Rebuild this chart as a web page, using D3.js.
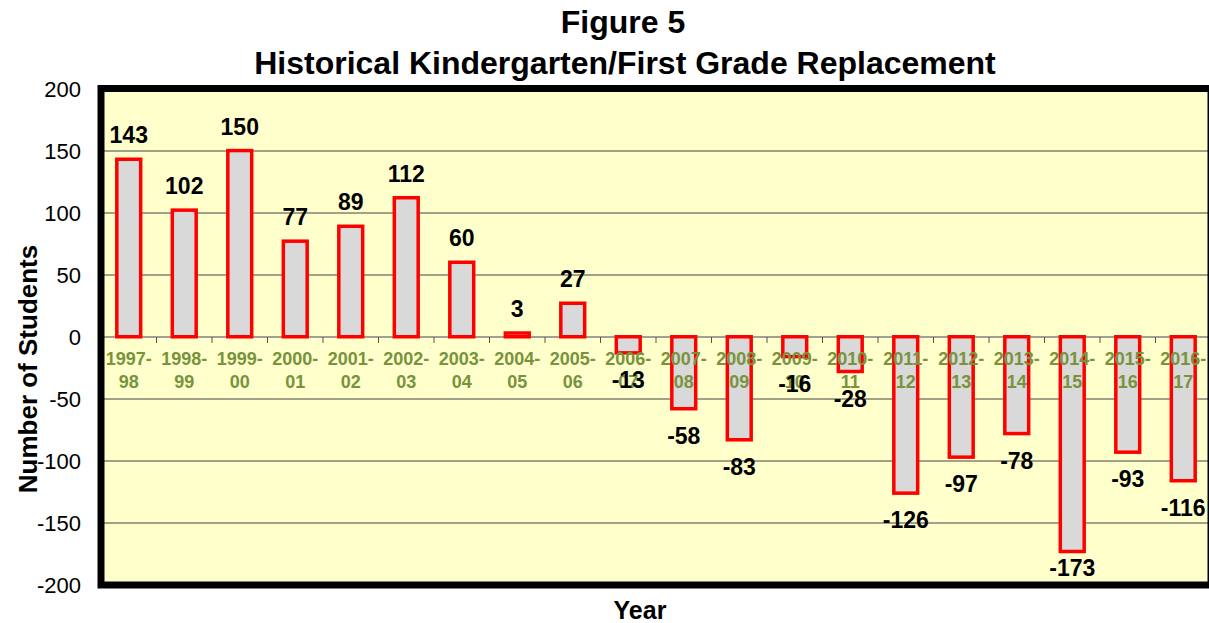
<!DOCTYPE html>
<html>
<head>
<meta charset="utf-8">
<script src="https://cdn.jsdelivr.net/npm/d3@7"></script>
<style>
  body { margin: 0; background: #fff; overflow: hidden; }
  svg { display: block; font-family: Arial, "Liberation Sans", sans-serif; }
</style>
</head>
<body>
<svg id="chart" width="1209" height="623"></svg>
<script>
// chart data
const years = ["1997-98","1998-99","1999-00","2000-01","2001-02","2002-03","2003-04","2004-05","2005-06","2006-07",
               "2007-08","2008-09","2009-10","2010-11","2011-12","2012-13","2013-14","2014-15","2015-16","2016-17"];
const replacement = [143,102,150,77,89,112,60,3,27,-13,-58,-83,-16,-28,-126,-97,-78,-173,-93,-116];
const yTicks = [-200,-150,-100,-50,0,50,100,150,200];

const svg = d3.select("#chart");
const margin = {left: 101, top: 88.5, right: -2, bottom: 38};
const width = 1209 - margin.left - margin.right;
const height = 623 - margin.top - margin.bottom;

const x = d3.scaleBand().domain(years).range([0, width]).paddingInner(0.57).paddingOuter(0.285);
const y = d3.scaleLinear().domain([-200, 200]).range([height, 0]);

const g = svg.append("g").attr("transform", `translate(${margin.left},${margin.top})`);

// plot background
g.append("rect").attr("width", width).attr("height", height).attr("fill", "#FFFFCC");

// gridlines
g.selectAll(".grid").data(yTicks.filter(d => d !== 0 && Math.abs(d) !== 200))
  .enter().append("line")
  .attr("x1", 0).attr("x2", width)
  .attr("y1", d => Math.round(y(d)) + 0.5).attr("y2", d => Math.round(y(d)) + 0.5)
  .attr("stroke", "#444").attr("stroke-width", 1);

// zero axis with ticks at band edges
const zeroY = Math.round(y(0)) + 0.5;
g.append("line").attr("x1", 0).attr("x2", width).attr("y1", zeroY).attr("y2", zeroY)
  .attr("stroke", "#808080").attr("stroke-width", 1.5);
g.selectAll(".xtick").data(years.slice(1)).enter().append("line")
  .attr("x1", d => x(d) - x.step() * x.paddingInner() / 2)
  .attr("x2", d => x(d) - x.step() * x.paddingInner() / 2)
  .attr("y1", zeroY).attr("y2", zeroY + 6)
  .attr("stroke", "#555").attr("stroke-width", 1);

// bars
g.selectAll(".bar").data(years).enter().append("rect")
  .attr("x", d => x(d))
  .attr("width", x.bandwidth())
  .attr("y", (d, i) => y(Math.max(0, replacement[i])))
  .attr("height", (d, i) => Math.abs(y(replacement[i]) - y(0)))
  .attr("fill", "#D9D9D9")
  .attr("stroke", "#FF0000").attr("stroke-width", 3.5);

// category labels (two lines)
const catLabels = g.selectAll(".cat").data(years).enter().append("text")
  .attr("text-anchor", "middle")
  .attr("fill", "#77933C")
  .attr("font-weight", "bold")
  .attr("font-size", 18);
catLabels.append("tspan")
  .attr("x", d => x(d) + x.bandwidth() / 2).attr("y", y(0) + 28)
  .text(d => d.split("-")[0] + "-");
catLabels.append("tspan")
  .attr("x", d => x(d) + x.bandwidth() / 2).attr("y", y(0) + 51)
  .text(d => d.split("-")[1]);

// value labels
g.selectAll(".val").data(years).enter().append("text")
  .attr("text-anchor", "middle")
  .attr("font-weight", "bold")
  .attr("font-size", 23)
  .attr("fill", "#000")
  .attr("x", d => x(d) + x.bandwidth() / 2)
  .attr("y", (d, i) => {
    const v = replacement[i];
    return v >= 0 ? y(v) - 16 : Math.min(y(v) + 35, height - 9);
  })
  .text((d, i) => replacement[i]);

// frame
g.append("rect").attr("width", width).attr("height", height)
  .attr("fill", "none").attr("stroke", "#000").attr("stroke-width", 7);

// y axis labels
svg.append("g").selectAll("text").data(yTicks).enter().append("text")
  .attr("x", 81).attr("y", d => margin.top + y(d) + 8)
  .attr("text-anchor", "end")
  .attr("font-size", 22)
  .text(d => d);

// titles
svg.append("text").attr("x", 623).attr("y", 33).attr("text-anchor", "middle")
  .attr("font-weight", "bold").attr("font-size", 32).text("Figure 5");
svg.append("text").attr("x", 625).attr("y", 74).attr("text-anchor", "middle")
  .attr("font-weight", "bold").attr("font-size", 32).text("Historical Kindergarten/First Grade Replacement");
svg.append("text").attr("transform", "translate(37,369) rotate(-90)").attr("text-anchor", "middle")
  .attr("font-weight", "bold").attr("font-size", 26).text("Number of Students");
svg.append("text").attr("x", 640).attr("y", 619).attr("text-anchor", "middle")
  .attr("font-weight", "bold").attr("font-size", 25).text("Year");
</script>
</body>
</html>
